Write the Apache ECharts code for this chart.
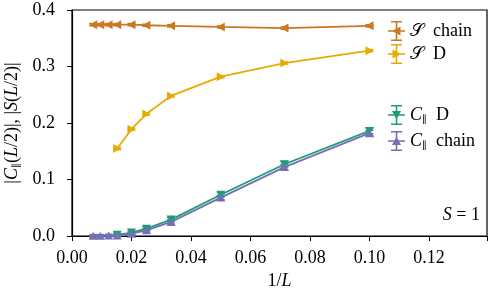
<!DOCTYPE html>
<html>
<head>
<meta charset="utf-8">
<script src="https://cdn.jsdelivr.net/npm/echarts@6/dist/echarts.min.js"></script>
<style>
  html, body { margin: 0; padding: 0; background: #ffffff; }
  #chart { width: 495px; height: 300px; }
</style>
</head>
<body>
<div id="chart"></div>
<script>
// 1/L values
var chainX = [0.0071, 0.0095, 0.0123, 0.0152, 0.02, 0.025, 0.0333, 0.05, 0.0714, 0.1];
var dX = [0.0152, 0.02, 0.025, 0.0333, 0.05, 0.0714, 0.1];

// S(L/2)
var sChainY = [0.374, 0.374, 0.374, 0.374, 0.374, 0.373, 0.372, 0.370, 0.368, 0.372];
var sChainErr = [0.002, 0.002, 0.002, 0.002, 0.002, 0.002, 0.002, 0.002, 0.002, 0.002];
var sDY = [0.155, 0.189, 0.216, 0.248, 0.282, 0.306, 0.328];
var sDErr = [0.002, 0.002, 0.002, 0.002, 0.002, 0.002, 0.002];

// C_par(L/2)
var cDY = [0.002, 0.006, 0.013, 0.029, 0.073, 0.127, 0.186];
var cDErr = [0.003, 0.003, 0.003, 0.004, 0.004, 0.005, 0.005];
var cChainY = [0.0005, 0.0005, 0.001, 0.001, 0.004, 0.010, 0.025, 0.068, 0.122, 0.182];
var cChainErr = [0.002, 0.002, 0.002, 0.002, 0.003, 0.003, 0.004, 0.004, 0.005, 0.005];

var xTicks = [0, 0.02, 0.04, 0.06, 0.08, 0.10, 0.12];
var yTicks = [0, 0.1, 0.2, 0.3, 0.4];

var FONT = "Liberation Serif";
var FS = 18;
var colSChain = "#cc7722";
var colSD = "#e6ab02";
var colCD = "#1b9e77";
var colCChain = "#7570b3";

function pts(xs, ys) {
  return xs.map(function (x, i) { return [x, ys[i]]; });
}
function errPts(xs, ys, es) {
  return xs.map(function (x, i) { return [x, ys[i] - es[i], ys[i] + es[i]]; });
}

// errorbar drawn with axis coords
function errRender(color) {
  return function (params, api) {
    var x = api.value(0);
    var lo = api.coord([x, api.value(1)]);
    var hi = api.coord([x, api.value(2)]);
    var w = 4;
    var st = { stroke: color, lineWidth: 1.4 };
    return {
      type: "group",
      children: [
        { type: "line", shape: { x1: lo[0], y1: lo[1], x2: hi[0], y2: hi[1] }, style: st },
        { type: "line", shape: { x1: lo[0] - w, y1: lo[1], x2: lo[0] + w, y2: lo[1] }, style: st },
        { type: "line", shape: { x1: hi[0] - w, y1: hi[1], x2: hi[0] + w, y2: hi[1] }, style: st }
      ]
    };
  };
}

function errSeries(xs, ys, es, color) {
  return {
    type: "custom",
    renderItem: errRender(color),
    data: errPts(xs, ys, es),
    encode: { x: 0, y: [1, 2] },
    silent: true,
    z: 1
  };
}

function lineSeries(name, xs, ys, color, rot) {
  return {
    name: name,
    type: "line",
    data: pts(xs, ys),
    symbol: "triangle",
    symbolSize: [9, 8],
    symbolRotate: rot,
    showSymbol: true,
    itemStyle: { color: color },
    lineStyle: { color: color, width: 1.8 },
    z: 3
  };
}

// legend icons: errorbar + triangle
var bars = "M3 0 h11 v1.6 h-11 Z M7.7 0 h1.6 v20 h-1.6 Z M3 18.4 h11 v1.6 h-11 Z M0 9.2 h17 v1.6 h-17 Z ";
var iconLeft = "path://" + bars + "M4 10 L12.5 5.5 L12.5 14.5 Z";
var iconRight = "path://" + bars + "M13 10 L4.5 14.5 L4.5 5.5 Z";
var iconDown = "path://" + bars + "M8.5 14.5 L4 6 L13 6 Z";
var iconUp = "path://" + bars + "M8.5 5.5 L13 14 L4 14 Z";

var rich = {
  i: { fontFamily: FONT, fontStyle: "italic", fontSize: FS, color: "#000" },
  s: { fontFamily: "DejaVu Sans", fontSize: 10, color: "#000", verticalAlign: "bottom", padding: [9, 0, 0, 0] },
  n: { fontFamily: FONT, fontSize: FS, color: "#000" }
};

var chart = echarts.init(document.getElementById("chart"));
chart.setOption({
  animation: false,
  backgroundColor: "#ffffff",
  textStyle: { fontFamily: FONT },
  grid: {
    left: 72, right: 8, top: 10, bottom: 64,
    outerBoundsMode: "none", containLabel: false,
    show: true, borderColor: "#000", borderWidth: 1.2
  },
  xAxis: {
    type: "value",
    min: 0,
    max: 0.1395,
    interval: 0.02,
    name: "{n|1/}{i|L}",
    nameLocation: "middle",
    nameGap: 35,
    nameTextStyle: { rich: rich },
    axisLine: { show: true, lineStyle: { color: "#000", width: 1.2 } },
    axisTick: { show: true, length: 5, lineStyle: { color: "#000" } },
    splitLine: { show: false },
    axisLabel: {
      color: "#000", fontSize: FS, fontFamily: FONT, margin: 13,
      formatter: function (v) {
        return v > 0.13 ? "" : v.toFixed(2);
      }
    }
  },
  yAxis: {
    type: "value",
    min: 0,
    max: 0.4,
    interval: 0.1,
    name: "{n||}{i|C}{s|∥}{n|(}{i|L}{n|/2)|, |}{i|S}{n|(}{i|L}{n|/2)|}",
    nameLocation: "middle",
    nameRotate: 90,
    nameGap: 50,
    nameTextStyle: { rich: rich },
    axisLine: { show: true, lineStyle: { color: "#000", width: 1.2 } },
    axisTick: { show: true, length: 5, lineStyle: { color: "#000" } },
    splitLine: { show: false },
    axisLabel: {
      color: "#000", fontSize: FS, fontFamily: FONT, margin: 17,
      formatter: function (v) { return v.toFixed(1); }
    }
  },
  legend: [
    {
      orient: "vertical",
      left: 383,
      top: 16,
      itemWidth: 17,
      itemHeight: 20,
      itemGap: 3,
      textStyle: { fontFamily: FONT, fontSize: FS, color: "#000", rich: rich },
      formatter: function (name) {
        return name.replace("𝒮 ", "{n|𝒮  }");
      },
      data: [
        { name: "𝒮 chain", icon: iconLeft },
        { name: "𝒮 D", icon: iconRight }
      ]
    },
    {
      orient: "vertical",
      left: 383,
      top: 100,
      itemWidth: 17,
      itemHeight: 20,
      itemGap: 6,
      textStyle: { fontFamily: FONT, fontSize: FS, color: "#000", rich: rich },
      formatter: function (name) {
        return name.replace("C∥ ", "{i|C}{s|∥}{n|  }");
      },
      data: [
        { name: "C∥ D", icon: iconDown },
        { name: "C∥ chain", icon: iconUp }
      ]
    }
  ],
  graphic: [
    {
      type: "text",
      right: 15,
      top: 206,
      style: { text: "{i|S}{n| = 1}", rich: rich }
    }
  ],
  series: [
    errSeries(chainX, sChainY, sChainErr, colSChain),
    errSeries(dX, sDY, sDErr, colSD),
    errSeries(dX, cDY, cDErr, colCD),
    errSeries(chainX, cChainY, cChainErr, colCChain),
    lineSeries("𝒮 chain", chainX, sChainY, colSChain, 90),
    lineSeries("𝒮 D", dX, sDY, colSD, -90),
    lineSeries("C∥ D", dX, cDY, colCD, 180),
    lineSeries("C∥ chain", chainX, cChainY, colCChain, 0)
  ]
});
</script>
</body>
</html>
